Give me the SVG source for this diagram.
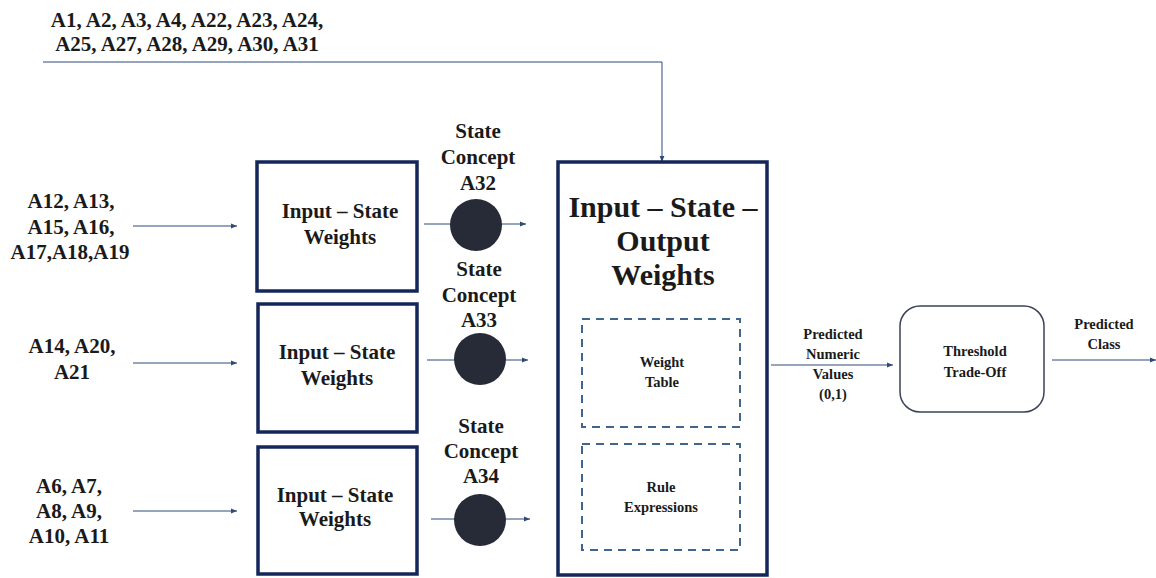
<svg xmlns="http://www.w3.org/2000/svg" width="1156" height="578" viewBox="0 0 1156 578">
<defs>
<style>
text{font-family:'Liberation Serif','Times New Roman',serif;font-weight:700;fill:#1a1a1a;text-anchor:middle}
.l{font-size:21px}
.s{font-size:14.5px}
.big{font-size:30px}
.box{fill:#fff;stroke:#15275a;stroke-width:3.5}
.dash{fill:none;stroke:#3f6590;stroke-width:2;stroke-dasharray:8 6}
.c{fill:none;stroke:#2f4a78;stroke-width:1;marker-end:url(#ah)}
.cn{fill:none;stroke:#2f4a78;stroke-width:1}
.dot{fill:#262b37}
</style>
<marker id="ah" viewBox="0 0 10 10" refX="10" refY="5" markerWidth="6" markerHeight="6" markerUnits="userSpaceOnUse" orient="auto">
<path d="M0,1 L10,5 L0,9 z" fill="#2f4a78"/>
</marker>
</defs>
<rect width="1156" height="578" fill="#fff"/>

<g id="connectors">
<path class="c" d="M43,62 H662 V162"/>
<path class="c" d="M133,226 H237"/>
<path class="c" d="M133,363 H237"/>
<path class="c" d="M133,511 H237"/>
<path class="cn" d="M424,224 H452"/>
<path class="c" d="M500,224 H526"/>
<path class="cn" d="M427,360 H455"/>
<path class="c" d="M503,360 H528"/>
<path class="cn" d="M431,519 H455"/>
<path class="c" d="M503,519 H530"/>
<path class="c" d="M771,365 H893"/>
<path class="c" d="M1052,360 H1156"/>
</g>

<g id="top-inputs">
<text class="l" x="187" y="27">A1, A2, A3, A4, A22, A23, A24,</text>
<text class="l" x="187" y="51">A25, A27, A28, A29, A30, A31</text>
</g>

<g id="inputs-1">
<text class="l" x="71" y="208">A12, A13,</text>
<text class="l" x="71" y="234">A15, A16,</text>
<text class="l" x="70" y="259">A17,A18,A19</text>
</g>
<g id="inputs-2">
<text class="l" x="72" y="353">A14, A20,</text>
<text class="l" x="72" y="379">A21</text>
</g>
<g id="inputs-3">
<text class="l" x="69" y="493">A6, A7,</text>
<text class="l" x="69" y="518">A8, A9,</text>
<text class="l" x="69" y="543">A10, A11</text>
</g>

<g id="weights-1">
<rect class="box" x="257" y="162" width="160" height="129"/>
<text class="l" x="340" y="218">Input – State</text>
<text class="l" x="340" y="244">Weights</text>
</g>
<g id="weights-2">
<rect class="box" x="258" y="304" width="159" height="128"/>
<text class="l" x="337" y="359">Input – State</text>
<text class="l" x="337" y="385">Weights</text>
</g>
<g id="weights-3">
<rect class="box" x="258" y="447" width="159" height="127"/>
<text class="l" x="335" y="502">Input – State</text>
<text class="l" x="335" y="526">Weights</text>
</g>

<g id="state-a32">
<text class="l" x="478" y="138">State</text>
<text class="l" x="478" y="164">Concept</text>
<text class="l" x="478" y="190">A32</text>
<circle class="dot" cx="476" cy="225" r="26"/>
</g>
<g id="state-a33">
<text class="l" x="479" y="276">State</text>
<text class="l" x="479" y="302">Concept</text>
<text class="l" x="479" y="327">A33</text>
<circle class="dot" cx="480" cy="359" r="26"/>
</g>
<g id="state-a34">
<text class="l" x="481" y="433">State</text>
<text class="l" x="481" y="458">Concept</text>
<text class="l" x="481" y="483">A34</text>
<circle class="dot" cx="480" cy="520" r="26"/>
</g>

<g id="output-weights">
<rect class="box" x="558" y="162" width="209" height="413" stroke-width="4"/>
<text class="big" x="663" y="217">Input – State –</text>
<text class="big" x="663" y="251">Output</text>
<text class="big" x="663" y="285">Weights</text>
</g>
<g id="weight-table">
<rect class="dash" x="582" y="319" width="158" height="108"/>
<text class="s" x="662" y="367">Weight</text>
<text class="s" x="662" y="387">Table</text>
</g>
<g id="rule-expressions">
<rect class="dash" x="582" y="444" width="158" height="106"/>
<text class="s" x="661" y="492">Rule</text>
<text class="s" x="661" y="512">Expressions</text>
</g>

<g id="predicted-values">
<text class="s" x="833" y="339">Predicted</text>
<text class="s" x="833" y="359">Numeric</text>
<text class="s" x="833" y="379">Values</text>
<text class="s" x="833" y="399">(0,1)</text>
</g>

<g id="threshold">
<rect x="900" y="306" width="144" height="106" rx="20" fill="#fff" stroke="#3c4256" stroke-width="1.5"/>
<text class="s" x="975" y="356">Threshold</text>
<text class="s" x="975" y="377">Trade-Off</text>
</g>

<g id="predicted-class">
<text class="s" x="1104" y="329">Predicted</text>
<text class="s" x="1104" y="349">Class</text>
</g>
</svg>
